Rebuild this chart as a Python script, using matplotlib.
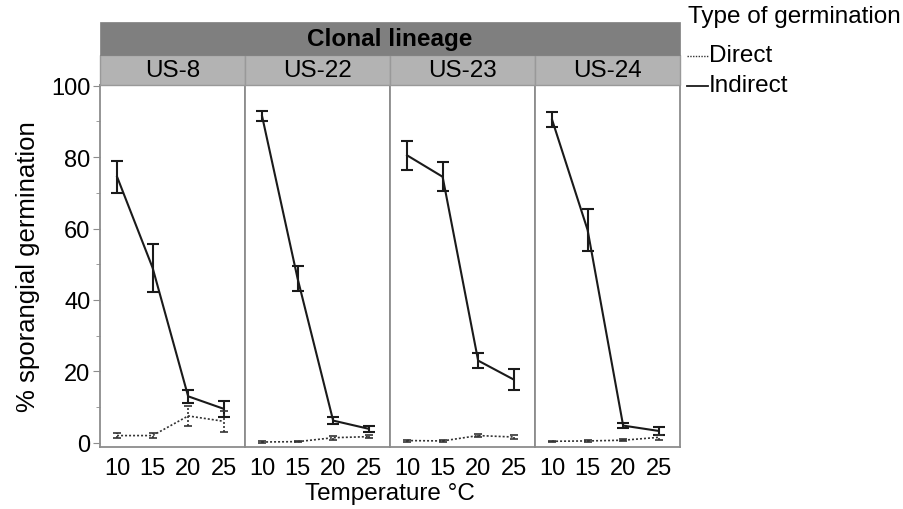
import matplotlib
matplotlib.use("Agg")
import matplotlib.pyplot as plt
from matplotlib.ticker import MultipleLocator
from matplotlib.lines import Line2D

plt.rcParams['font.family'] = ['Liberation Sans', 'DejaVu Sans']

temps = [10, 15, 20, 25]
lineages = ["US-8", "US-22", "US-23", "US-24"]

# % sporangial germination, mean and error
indirect_mean = {
    "US-8": [74.5, 49.0, 13.0, 9.5],
    "US-22": [91.5, 46.0, 6.2, 3.9],
    "US-23": [80.5, 74.5, 23.0, 17.7],
    "US-24": [90.5, 59.6, 4.8, 3.3],
}
indirect_err = {
    "US-8": [4.5, 6.8, 1.8, 2.2],
    "US-22": [1.5, 3.5, 0.9, 0.9],
    "US-23": [4.0, 4.0, 2.2, 3.0],
    "US-24": [2.0, 6.0, 0.7, 1.2],
}
direct_mean = {
    "US-8": [2.0, 2.0, 7.5, 6.0],
    "US-22": [0.2, 0.3, 1.4, 1.7],
    "US-23": [0.6, 0.5, 2.0, 1.6],
    "US-24": [0.4, 0.5, 0.7, 1.5],
}
direct_err = {
    "US-8": [0.8, 0.7, 2.8, 3.0],
    "US-22": [0.2, 0.2, 0.5, 0.5],
    "US-23": [0.3, 0.3, 0.4, 0.5],
    "US-24": [0.2, 0.2, 0.3, 0.6],
}

W, H = 904, 510
fig = plt.figure(figsize=(W / 100, H / 100), dpi=100)

left, right = 100, 680
top, bottom = 86, 448
pw = (right - left) / 4
edge = "#8c8c8c"
fs = 17.5

axes = []
for i, lin in enumerate(lineages):
    x0 = left + i * pw
    ax = fig.add_axes([x0 / W, 1 - bottom / H, pw / W, (bottom - top) / H])
    axes.append(ax)
    ax.errorbar(temps, indirect_mean[lin], yerr=indirect_err[lin], color="#1a1a1a",
                lw=1.5, capsize=4.5, capthick=1.5, elinewidth=1.5)
    eb = ax.errorbar(temps, direct_mean[lin], yerr=direct_err[lin], color="#333333",
                     lw=1.2, ls=(0, (1.2, 1.2)), capsize=3, capthick=1.2, elinewidth=1.2)
    for c in eb[2]:
        c.set_linestyle((0, (1.2, 1.2)))
    ax.set_xlim(7.6, 28)
    ax.set_ylim(-1.2, 100.2)
    ax.set_xticks(temps)
    ax.set_xticklabels([str(t) for t in temps], fontsize=17)
    ax.tick_params(axis="x", length=0, pad=7)
    for s in ax.spines.values():
        s.set_color(edge)
        s.set_linewidth(1.3)
    if i == 0:
        ax.yaxis.set_major_locator(MultipleLocator(20))
        ax.yaxis.set_minor_locator(MultipleLocator(10))
        ax.tick_params(axis="y", which="major", labelsize=17, length=5, color=edge, pad=2)
        ax.tick_params(axis="y", which="minor", length=3, color=edge)
        ax.set_ylabel("% sporangial germination", fontsize=18.5, labelpad=8)
    else:
        ax.tick_params(axis="y", which="both", left=False, labelleft=False)

    # light strip with clone name
    fig.patches.append(plt.Rectangle((x0 / W, 1 - 86 / H), pw / W, 30 / H,
                                     transform=fig.transFigure, facecolor="#b3b3b3",
                                     edgecolor="#999999", lw=1.0))
    fig.text((x0 + pw / 2) / W, 1 - 71 / H, lin, ha="center", va="center", fontsize=fs)

# dark strip
fig.patches.append(plt.Rectangle((left / W, 1 - 56 / H), (right - left) / W, 33 / H,
                                 transform=fig.transFigure, facecolor="#7f7f7f",
                                 edgecolor="#7f7f7f", lw=0.5))
fig.text((left + right) / 2 / W, 1 - 40 / H, "Clonal lineage", ha="center", va="center",
         fontsize=fs, fontweight="bold")

fig.text((left + right) / 2 / W, 1 - 494 / H, "Temperature \u00b0C", ha="center",
         va="center", fontsize=fs)

# legend
fig.text(688 / W, 1 - 17 / H, "Type of germination", ha="left", va="center", fontsize=fs)
fig.lines.append(Line2D([687 / W, 708 / W], [1 - 57 / H, 1 - 57 / H], transform=fig.transFigure,
                        color="#333333", lw=1.0, ls=(0, (1, 1))))
fig.text(709 / W, 1 - 56 / H, "Direct", ha="left", va="center", fontsize=fs)
fig.lines.append(Line2D([687 / W, 708 / W], [1 - 87 / H, 1 - 87 / H], transform=fig.transFigure,
                        color="#1a1a1a", lw=1.3))
fig.text(709 / W, 1 - 86 / H, "Indirect", ha="left", va="center", fontsize=fs)

fig.savefig("out.png", dpi=100)
